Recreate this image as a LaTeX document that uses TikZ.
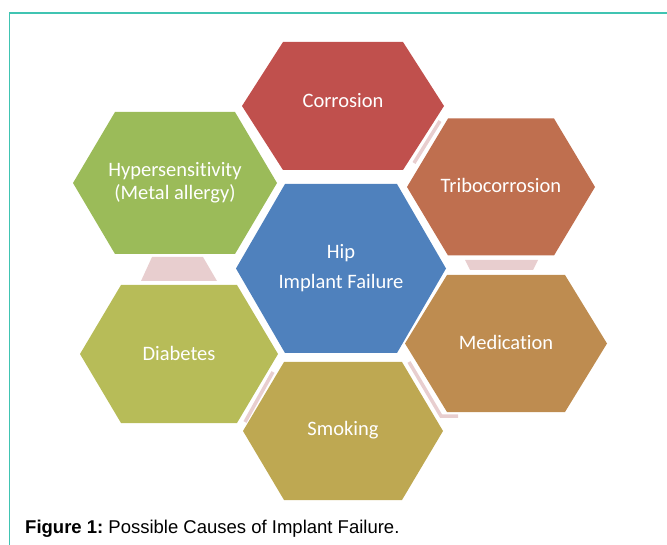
\documentclass[tikz,border=0pt]{standalone}
\usepackage{fontspec}
\setmainfont[Ligatures=NoCommon]{Carlito}
\newfontfamily\capfont{Liberation Sans}
\usepackage{tikz}
\definecolor{frame_teal}{RGB}{64,196,178}
\definecolor{link_pink}{RGB}{232,206,207}
\definecolor{hex_red}{RGB}{192,80,77}
\definecolor{hex_rust}{RGB}{191,111,79}
\definecolor{hex_tan}{RGB}{190,140,80}
\definecolor{hex_ochre}{RGB}{190,168,82}
\definecolor{hex_olive}{RGB}{183,188,88}
\definecolor{hex_green}{RGB}{155,187,89}
\definecolor{hex_blue}{RGB}{79,129,189}
% #1,#2 centre, #3 half width at the points, #4 half width of flat edge, #5 half height, #6 colour
\newcommand\hexcell[6]{\fill[#6] ({#1-#3},#2) -- ({#1-#4},{#2-#5}) -- ({#1+#4},{#2-#5}) -- ({#1+#3},#2) -- ({#1+#4},{#2+#5}) -- ({#1-#4},{#2+#5}) -- cycle;}

\begin{document}
\frenchspacing
\begin{tikzpicture}[x=1pt,y=-1pt]
    \tikzstyle{lbl}=[text=white, align=center, inner sep=0pt, font=\fontsize{20.5}{23}\selectfont]
    \tikzstyle{link}=[fill=link_pink]
    \tikzstyle{band}=[draw=link_pink, line width=3.5pt, line join=miter]
    \tikzstyle{frame}=[draw=frame_teal, line width=1.3pt]

    \useasboundingbox (0,0) rectangle (667,545);
    \draw[frame] (9.5,545) -- (9.5,13) -- (667,13);

    \fill[link] (152,257) -- (203,257) -- (217,281) -- (141,281) -- cycle;
    \fill[link] (465,260) -- (538,260) -- (533,270) -- (470,270) -- cycle;
    \draw[band] (414,163) -- (440,121);
    \draw[band] (273,372) -- (245,422);
    \draw[band] (409,362) -- (441,416) -- (458,416);

    \hexcell{343}{106}{101}{60}{64}{hex_red}
    \hexcell{501}{187}{94}{53}{68.5}{hex_rust}
    \hexcell{506}{343.5}{101}{59}{68.5}{hex_tan}
    \hexcell{343}{431}{100}{59}{69}{hex_ochre}
    \hexcell{179}{354}{99}{58}{69}{hex_olive}
    \hexcell{175}{183}{102}{60}{71}{hex_green}
    \hexcell{341}{268.5}{105}{56}{84.5}{hex_blue}

    \node[lbl] (corr)  at (343,101)   {Corrosion};
    \node[lbl] (tribo) at (501,185)   {Tribocorrosion};
    \node[lbl] (med)   at (506,342)   {Medication};
    \node[lbl] (smoke) at (343,430)   {Smoking};
    \node[lbl] (diab)  at (179,353)   {Diabetes};
    \node[lbl] (hyper) at (175,183)   {Hypersensitivity\\(Metal allergy)};
    \node[lbl] (hip)   at (341,268)   {Hip\\[7pt]Implant Failure};

    \node[anchor=base west, inner sep=0pt, font=\capfont\fontsize{18.5}{20}\selectfont] (cap) at (25,533) {\textbf{Figure 1:} Possible Causes of Implant Failure.};
\end{tikzpicture}
\end{document}
